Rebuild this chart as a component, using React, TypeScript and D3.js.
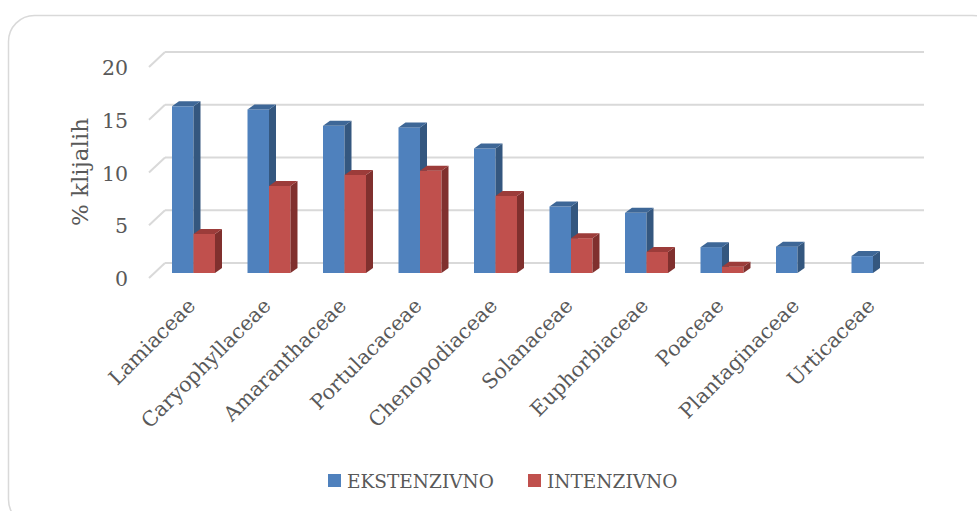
import React from "react";
import * as d3 from "d3";

const categories = [
  "Lamiaceae",
  "Caryophyllaceae",
  "Amaranthaceae",
  "Portulacaceae",
  "Chenopodiaceae",
  "Solanaceae",
  "Euphorbiaceae",
  "Poaceae",
  "Plantaginaceae",
  "Urticaceae",
];
const ekstenzivno = [15.8, 15.5, 13.95, 13.8, 11.8, 6.3, 5.7, 2.45, 2.5, 1.6];
const intenzivno = [3.7, 8.25, 9.3, 9.7, 7.3, 3.3, 2.0, 0.6, 0, 0];
const seriesNames = ["EKSTENZIVNO", "INTENZIVNO"];
const yTicks = [0, 5, 10, 15, 20];
const yTitle = "% klijalih";

const W = 977;
const H = 511;
const FONT = "'DejaVu Serif', serif";
const TEXT = "#595959";
const GRID = "#d9d9d9";

const colors = [
  { front: "#4F81BD", side: "#34577F", top: "#3E6797" },
  { front: "#C0504D", side: "#80302E", top: "#9C3C3A" },
];

export default function App() {
  const x = d3.scaleBand<string>().domain(categories).range([155.75, 910.75]);
  const inner = d3
    .scaleBand<string>()
    .domain(seriesNames)
    .range([0, x.step()])
    .paddingInner(0)
    .paddingOuter(0.756);
  const yFront = d3.scaleLinear().domain([0, 20]).range([273, 62]);
  const yBack = d3.scaleLinear().domain([0, 20]).range([263, 52]);
  const depthX = 7;
  const depthY = -5;
  const wallX0 = 165;
  const wallX1 = 924;
  const sideDX = 16;
  const sideDY = 15;

  const data = [ekstenzivno, intenzivno];

  return (
    <svg
      width={W}
      height={H}
      style={{ position: "absolute", left: 0, top: 0, background: "#fff" }}
      fontFamily={FONT}
    >
      <rect
        x={8.5}
        y={15.5}
        width={990}
        height={510}
        rx={26}
        fill="#fff"
        stroke={GRID}
        strokeWidth={1.5}
      />
      {yTicks.map((t) => {
        const yb = yBack(t);
        return (
          <g key={t}>
            <line x1={wallX0} x2={wallX1} y1={yb} y2={yb} stroke={GRID} strokeWidth={2} />
            <line
              x1={wallX0 - sideDX}
              y1={yb + sideDY}
              x2={wallX0}
              y2={yb}
              stroke={GRID}
              strokeWidth={2}
            />
            <text
              x={128}
              y={yb + sideDY + 1}
              textAnchor="end"
              dominantBaseline="central"
              fontSize={20.5}
              fill={TEXT}
            >
              {t}
            </text>
          </g>
        );
      })}
      {categories.map((c, i) => (
        <g key={c}>
          {data.map((vals, s) => {
            const v = vals[i];
            if (!v) return null;
            const x0 = (x(c) as number) + (inner(seriesNames[s]) as number);
            const bw = inner.bandwidth();
            const yt = yFront(v);
            const yb = yFront(0);
            const col = colors[s];
            const side = `M${x0 + bw},${yt} L${x0 + bw + depthX},${yt + depthY} L${x0 + bw + depthX},${yb + depthY} L${x0 + bw},${yb} Z`;
            const top = `M${x0},${yt} L${x0 + depthX},${yt + depthY} L${x0 + bw + depthX},${yt + depthY} L${x0 + bw},${yt} Z`;
            return (
              <g key={s}>
                <rect x={x0} y={yt} width={bw} height={yb - yt} fill={col.front} />
                <path d={side} fill={col.side} />
                <path d={top} fill={col.top} />
              </g>
            );
          })}
        </g>
      ))}
      {categories.map((c) => {
        const cx = (x(c) as number) + x.bandwidth() / 2;
        return (
          <text
            key={c}
            transform={`translate(${cx + 3},${307}) rotate(-45)`}
            textAnchor="end"
            fontSize={20.5}
            fill={TEXT}
          >
            {c}
          </text>
        );
      })}
      <text
        transform={`translate(88,172) rotate(-90)`}
        textAnchor="middle"
        fontSize={23}
        fill={TEXT}
      >
        {yTitle}
      </text>
      {seriesNames.map((n, s) => {
        const lx = s === 0 ? 328 : 528;
        return (
          <g key={n}>
            <rect x={lx} y={474} width={13} height={13} fill={colors[s].front} />
            <text x={lx + 19} y={488} fontSize={18.5} fill={TEXT}>
              {n}
            </text>
          </g>
        );
      })}
    </svg>
  );
}
